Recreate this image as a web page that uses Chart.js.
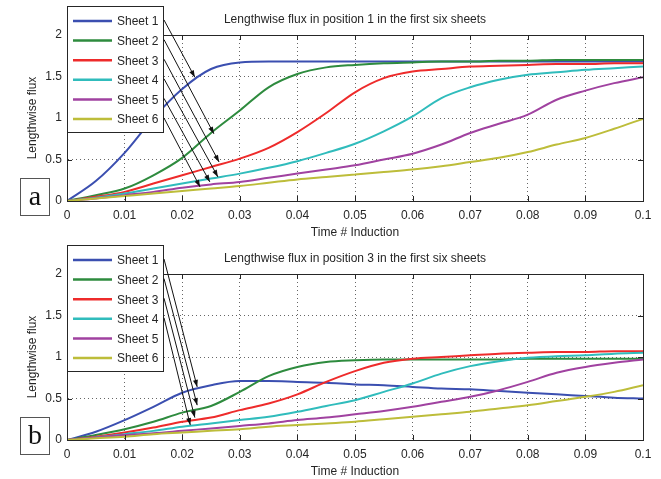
<!DOCTYPE html>
<html>
<head>
<meta charset="utf-8">
<script src="https://cdn.jsdelivr.net/npm/chart.js@4/dist/chart.umd.min.js"></script>
<style>
  html, body { margin: 0; padding: 0; background: #fff; }
  #wrap { position: relative; width: 661px; height: 479px; }
  canvas { position: absolute; left: 0; }
</style>
</head>
<body>
<div id="wrap">
  <canvas id="fluxPos1" width="661" height="240" style="top:0"></canvas>
  <canvas id="fluxPos3" width="661" height="240" style="top:239px"></canvas>
</div>
<script>
// time axis (s)
const timeValues = [0, 0.005, 0.01, 0.015, 0.02, 0.025, 0.03, 0.035, 0.04, 0.045, 0.05,
                    0.055, 0.06, 0.065, 0.07, 0.075, 0.08, 0.085, 0.09, 0.095, 0.1];
const sheetNames = ['Sheet 1', 'Sheet 2', 'Sheet 3', 'Sheet 4', 'Sheet 5', 'Sheet 6'];
const sheetColors = ['#3b4fb0', '#2e8b3e', '#ee2b2b', '#30bcbc', '#a042a0', '#bdbd3a'];

// position 1
const pos1Sheet1 = [0, 0.24, 0.58, 1.0, 1.35, 1.59, 1.67, 1.68, 1.68, 1.68, 1.68, 1.68, 1.68, 1.68, 1.68, 1.68, 1.68, 1.68, 1.68, 1.68, 1.68];
const pos1Sheet2 = [0, 0.07, 0.15, 0.31, 0.52, 0.82, 1.09, 1.37, 1.53, 1.61, 1.64, 1.66, 1.67, 1.68, 1.68, 1.69, 1.69, 1.7, 1.7, 1.7, 1.7];
const pos1Sheet3 = [0, 0.05, 0.11, 0.21, 0.31, 0.41, 0.51, 0.64, 0.83, 1.06, 1.31, 1.48, 1.56, 1.59, 1.62, 1.63, 1.64, 1.65, 1.65, 1.66, 1.66];
const pos1Sheet4 = [0, 0.04, 0.09, 0.15, 0.21, 0.27, 0.33, 0.4, 0.48, 0.58, 0.69, 0.84, 1.02, 1.24, 1.37, 1.46, 1.52, 1.55, 1.58, 1.6, 1.62];
const pos1Sheet5 = [0, 0.03, 0.07, 0.11, 0.16, 0.2, 0.23, 0.28, 0.33, 0.38, 0.43, 0.5, 0.57, 0.68, 0.82, 0.93, 1.04, 1.22, 1.33, 1.42, 1.49];
const pos1Sheet6 = [0, 0.03, 0.06, 0.09, 0.12, 0.15, 0.18, 0.22, 0.26, 0.29, 0.32, 0.35, 0.38, 0.42, 0.47, 0.52, 0.59, 0.68, 0.76, 0.87, 0.99];

// position 3
const pos3Sheet1 = [0, 0.1, 0.24, 0.4, 0.57, 0.66, 0.71, 0.71, 0.7, 0.69, 0.67, 0.66, 0.64, 0.62, 0.61, 0.59, 0.57, 0.55, 0.53, 0.51, 0.5];
const pos3Sheet2 = [0, 0.06, 0.13, 0.22, 0.33, 0.41, 0.58, 0.77, 0.88, 0.94, 0.96, 0.97, 0.97, 0.97, 0.97, 0.97, 0.98, 0.98, 0.98, 0.98, 0.98];
const pos3Sheet3 = [0, 0.04, 0.09, 0.15, 0.22, 0.27, 0.36, 0.44, 0.55, 0.7, 0.83, 0.93, 0.98, 1.0, 1.02, 1.04, 1.05, 1.06, 1.06, 1.07, 1.07];
const pos3Sheet4 = [0, 0.03, 0.07, 0.11, 0.16, 0.2, 0.24, 0.28, 0.34, 0.41, 0.48, 0.58, 0.68, 0.8, 0.89, 0.95, 0.99, 1.01, 1.02, 1.04, 1.05];
const pos3Sheet5 = [0, 0.03, 0.06, 0.08, 0.11, 0.14, 0.17, 0.2, 0.24, 0.27, 0.31, 0.35, 0.4, 0.46, 0.52, 0.6, 0.7, 0.81, 0.88, 0.93, 0.97];
const pos3Sheet6 = [0, 0.02, 0.04, 0.07, 0.09, 0.11, 0.13, 0.16, 0.18, 0.2, 0.22, 0.25, 0.28, 0.31, 0.34, 0.38, 0.42, 0.47, 0.52, 0.58, 0.66];

// arrow tips (data coords), one per legend entry
const pos1ArrowX = [0.0222, 0.0255, 0.0264, 0.0262, 0.0248, 0.0231];
const pos1ArrowY = [1.49, 0.81, 0.47, 0.29, 0.23, 0.17];
const pos3ArrowX = [0.0226, 0.0226, 0.0222, 0.0214];
const pos3ArrowY = [0.64, 0.42, 0.27, 0.18];

const xTickStep = 0.01;
const yTickStep = 0.5;

const inkColor = '#262626';
const sansFont = '"Liberation Sans", Arial, sans-serif';

// frame, inward ticks, legend with arrows, title, labels, panel letter
const figDecor = {
  id: 'figDecor',
  afterDraw(chart, args, opts) {
    const ctx = chart.ctx;
    const a = chart.chartArea;
    const xs = chart.scales.x, ys = chart.scales.y;
    ctx.save();
    ctx.strokeStyle = inkColor;
    ctx.lineWidth = 1;
    ctx.strokeRect(a.left + 0.5, a.top + 0.5, a.right - a.left, a.bottom - a.top);

    ctx.beginPath();
    xs.ticks.forEach(t => {
      const px = Math.round(xs.getPixelForValue(t.value)) + 0.5;
      ctx.moveTo(px, a.bottom); ctx.lineTo(px, a.bottom - 5);
      ctx.moveTo(px, a.top); ctx.lineTo(px, a.top + 5);
    });
    ys.ticks.forEach(t => {
      const py = Math.round(ys.getPixelForValue(t.value)) + 0.5;
      ctx.moveTo(a.left, py); ctx.lineTo(a.left + 5, py);
      ctx.moveTo(a.right, py); ctx.lineTo(a.right - 5, py);
    });
    ctx.stroke();

    // title + axis labels
    ctx.fillStyle = inkColor;
    ctx.font = '12px ' + sansFont;
    ctx.textAlign = 'center';
    ctx.textBaseline = 'middle';
    ctx.fillText(opts.title, (a.left + a.right) / 2, 20);
    ctx.fillText('Time # Induction', (a.left + a.right) / 2, 233);
    ctx.save();
    ctx.translate(33, (a.top + a.bottom) / 2);
    ctx.rotate(-Math.PI / 2);
    ctx.fillText('Lengthwise flux', 0, 0);
    ctx.restore();

    // legend box
    const lx = 67, ly = 6, lw = 96, lh = 126;
    ctx.fillStyle = '#fff';
    ctx.fillRect(lx, ly, lw, lh);
    ctx.strokeRect(lx + 0.5, ly + 0.5, lw, lh);
    ctx.textAlign = 'left';
    chart.data.datasets.forEach((ds, i) => {
      const ey = 21 + i * 19.6;
      ctx.strokeStyle = ds.borderColor;
      ctx.lineWidth = 2.5;
      ctx.beginPath(); ctx.moveTo(73, ey); ctx.lineTo(112, ey); ctx.stroke();
      ctx.fillStyle = inkColor;
      ctx.fillText(ds.label, 117, ey + 1);
    });

    // arrows from legend entries to curves
    ctx.strokeStyle = '#111';
    ctx.fillStyle = '#111';
    ctx.lineWidth = 1;
    opts.arrowX.forEach((vx, i) => {
      const sx = 164, sy = 20 + i * 19.6;
      const tx = xs.getPixelForValue(vx), ty = ys.getPixelForValue(opts.arrowY[i]);
      const ang = Math.atan2(ty - sy, tx - sx);
      ctx.beginPath(); ctx.moveTo(sx, sy); ctx.lineTo(tx, ty); ctx.stroke();
      ctx.beginPath();
      ctx.moveTo(tx, ty);
      ctx.lineTo(tx - 7 * Math.cos(ang) + 2.5 * Math.sin(ang), ty - 7 * Math.sin(ang) - 2.5 * Math.cos(ang));
      ctx.lineTo(tx - 7 * Math.cos(ang) - 2.5 * Math.sin(ang), ty - 7 * Math.sin(ang) + 2.5 * Math.cos(ang));
      ctx.closePath(); ctx.fill();
    });

    // panel letter
    ctx.strokeStyle = '#555';
    ctx.fillStyle = '#fff';
    ctx.fillRect(20, 178, 29, 37);
    ctx.strokeRect(20.5, 178.5, 29, 37);
    ctx.fillStyle = '#111';
    ctx.font = '28px "Liberation Serif", "DejaVu Serif", serif';
    ctx.textAlign = 'center';
    ctx.textBaseline = 'alphabetic';
    ctx.fillText(opts.letter, 35, 205);
    ctx.restore();
  }
};

function makeDatasets(series) {
  return series.map((vals, i) => ({
    label: sheetNames[i],
    data: vals.map((v, k) => ({ x: timeValues[k], y: v })),
    borderColor: sheetColors[i],
    borderWidth: 2,
    pointRadius: 0,
    cubicInterpolationMode: 'monotone',
    order: series.length - i
  }));
}

function fluxChart(canvasId, series, title, letter, arrowX, arrowY) {
  return new Chart(document.getElementById(canvasId), {
    type: 'line',
    data: { datasets: makeDatasets(series) },
    options: {
      responsive: false,
      animation: false,
      devicePixelRatio: 1,
      layout: { padding: { top: 35, right: 18, left: 0, bottom: 0 } },
      plugins: {
        legend: { display: false },
        tooltip: { enabled: false },
        figDecor: { title, letter, arrowX, arrowY }
      },
      scales: {
        x: {
          type: 'linear', min: 0, max: 0.1,
          afterFit: s => { s.height = 39; },
          grid: { color: 'rgba(0,0,0,0.6)', lineWidth: 1, drawTicks: false },
          border: { color: inkColor, dash: [1, 3] },
          ticks: {
            stepSize: xTickStep, padding: 7, maxRotation: 0, autoSkip: false,
            color: inkColor, font: { family: sansFont, size: 12 },
            callback: v => String(+v.toFixed(2))
          }
        },
        y: {
          min: 0, max: 2,
          afterFit: s => { s.width = 67; },
          grid: { color: 'rgba(0,0,0,0.6)', lineWidth: 1, drawTicks: false },
          border: { color: inkColor, dash: [1, 3] },
          ticks: {
            stepSize: yTickStep, padding: 5,
            color: inkColor, font: { family: sansFont, size: 12 },
            callback: v => String(v)
          }
        }
      }
    },
    plugins: [figDecor]
  });
}

fluxChart('fluxPos1',
  [pos1Sheet1, pos1Sheet2, pos1Sheet3, pos1Sheet4, pos1Sheet5, pos1Sheet6],
  'Lengthwise flux in position 1 in the first six sheets', 'a', pos1ArrowX, pos1ArrowY);
fluxChart('fluxPos3',
  [pos3Sheet1, pos3Sheet2, pos3Sheet3, pos3Sheet4, pos3Sheet5, pos3Sheet6],
  'Lengthwise flux in position 3 in the first six sheets', 'b', pos3ArrowX, pos3ArrowY);
</script>
</body>
</html>
